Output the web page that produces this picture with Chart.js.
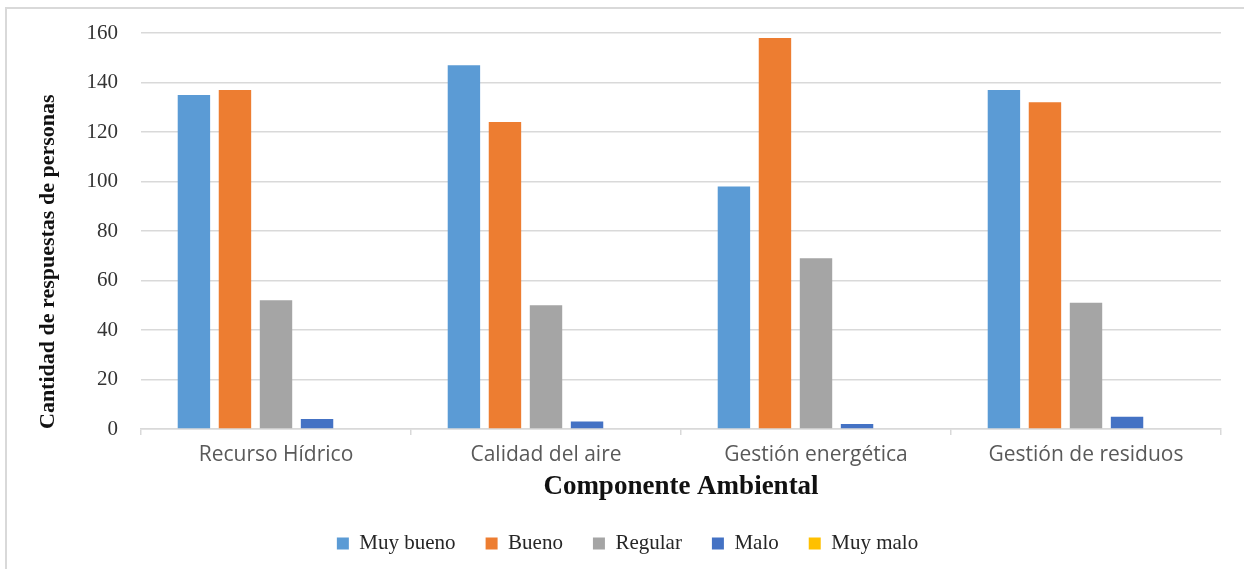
<!DOCTYPE html>
<html lang="es">
<head>
<meta charset="utf-8">
<title>Componente Ambiental</title>
<script src="https://cdn.jsdelivr.net/npm/chart.js@4/dist/chart.umd.min.js"></script>
<style>
    html, body { margin: 0; padding: 0; background: #fff; overflow: hidden; }
    #frame {
        position: absolute; left: 5px; top: 7px;
        width: 1300px; height: 620px;
        border: 2px solid #d9d9d9;
    }
    #wrap { position: absolute; left: 0; top: 0; width: 1244px; height: 569px; }
</style>
</head>
<body>
<div id="frame"></div>
<div id="wrap"><canvas id="chart1" width="1244" height="569"></canvas></div>
<script>
// Respuestas por componente ambiental
const componentes = ['Recurso Hídrico', 'Calidad del aire', 'Gestión energética', 'Gestión de residuos']
const muyBueno = [135, 147, 98, 137]
const bueno = [137, 124, 158, 132]
const regular = [52, 50, 69, 51]
const malo = [4, 3, 2, 5]
const muyMalo = [0, 0, 0, 0]
const yTicks = [0, 20, 40, 60, 80, 100, 120, 140, 160]

const serie = (label, data, color) => ({
    label: label,
    data: data,
    backgroundColor: color,
    borderWidth: 0,
    categoryPercentage: 0.76,
    barPercentage: 0.79
})

const ctx = document.getElementById('chart1').getContext('2d');

const chart1 = new Chart(ctx, {
    type: 'bar',
    data: {
        labels: componentes,
        datasets: [
            serie('Muy bueno', muyBueno, '#5b9bd5'),
            serie('Bueno', bueno, '#ed7d31'),
            serie('Regular', regular, '#a5a5a5'),
            serie('Malo', malo, '#4472c4'),
            serie('Muy malo', muyMalo, '#ffc000')
        ]
    },
    options: {
        responsive: false,
        animation: false,
        layout: {
            padding: { top: 33, right: 23, bottom: 5, left: 34 }
        },
        plugins: {
            tooltip: { enabled: false },
            legend: {
                position: 'bottom',
                labels: {
                    boxWidth: 12,
                    boxHeight: 12,
                    padding: 30,
                    color: '#262626',
                    font: { family: '"Liberation Serif", serif', size: 21 }
                }
            }
        },
        scales: {
            x: {
                grid: {
                    drawOnChartArea: false,
                    drawTicks: true,
                    tickLength: 6,
                    color: '#d9d9d9',
                    lineWidth: 1.5
                },
                border: { color: '#d9d9d9', width: 1.5 },
                ticks: {
                    padding: 7,
                    color: '#595959',
                    font: { family: '"Open Sans", sans-serif', size: 21 }
                },
                title: {
                    display: true,
                    text: 'Componente Ambiental',
                    color: '#111',
                    padding: { top: 0, bottom: 0 },
                    font: { family: '"Liberation Serif", serif', size: 27, weight: 'bold' }
                },
                afterFit: (scale) => { scale.height = 74 }
            },
            y: {
                min: 0,
                max: 160,
                afterBuildTicks: (scale) => { scale.ticks = yTicks.map(v => ({ value: v })) },
                grid: {
                    // invisible tick marks keep the labels away from the plot
                    drawTicks: true,
                    tickLength: 20,
                    tickColor: 'transparent',
                    color: '#d9d9d9',
                    lineWidth: 1.5
                },
                border: { display: false },
                ticks: {
                    padding: 3,
                    color: '#333',
                    font: { family: '"Liberation Serif", serif', size: 21 }
                },
                title: {
                    display: true,
                    align: 'start',
                    text: 'Cantidad de respuestas de personas',
                    color: '#111',
                    padding: { top: 1, bottom: 0 },
                    font: { family: '"Liberation Serif", serif', size: 22, weight: 'bold' }
                },
                afterFit: (scale) => { scale.width = 107 }
            }
        }
    }
})
</script>
</body>
</html>
